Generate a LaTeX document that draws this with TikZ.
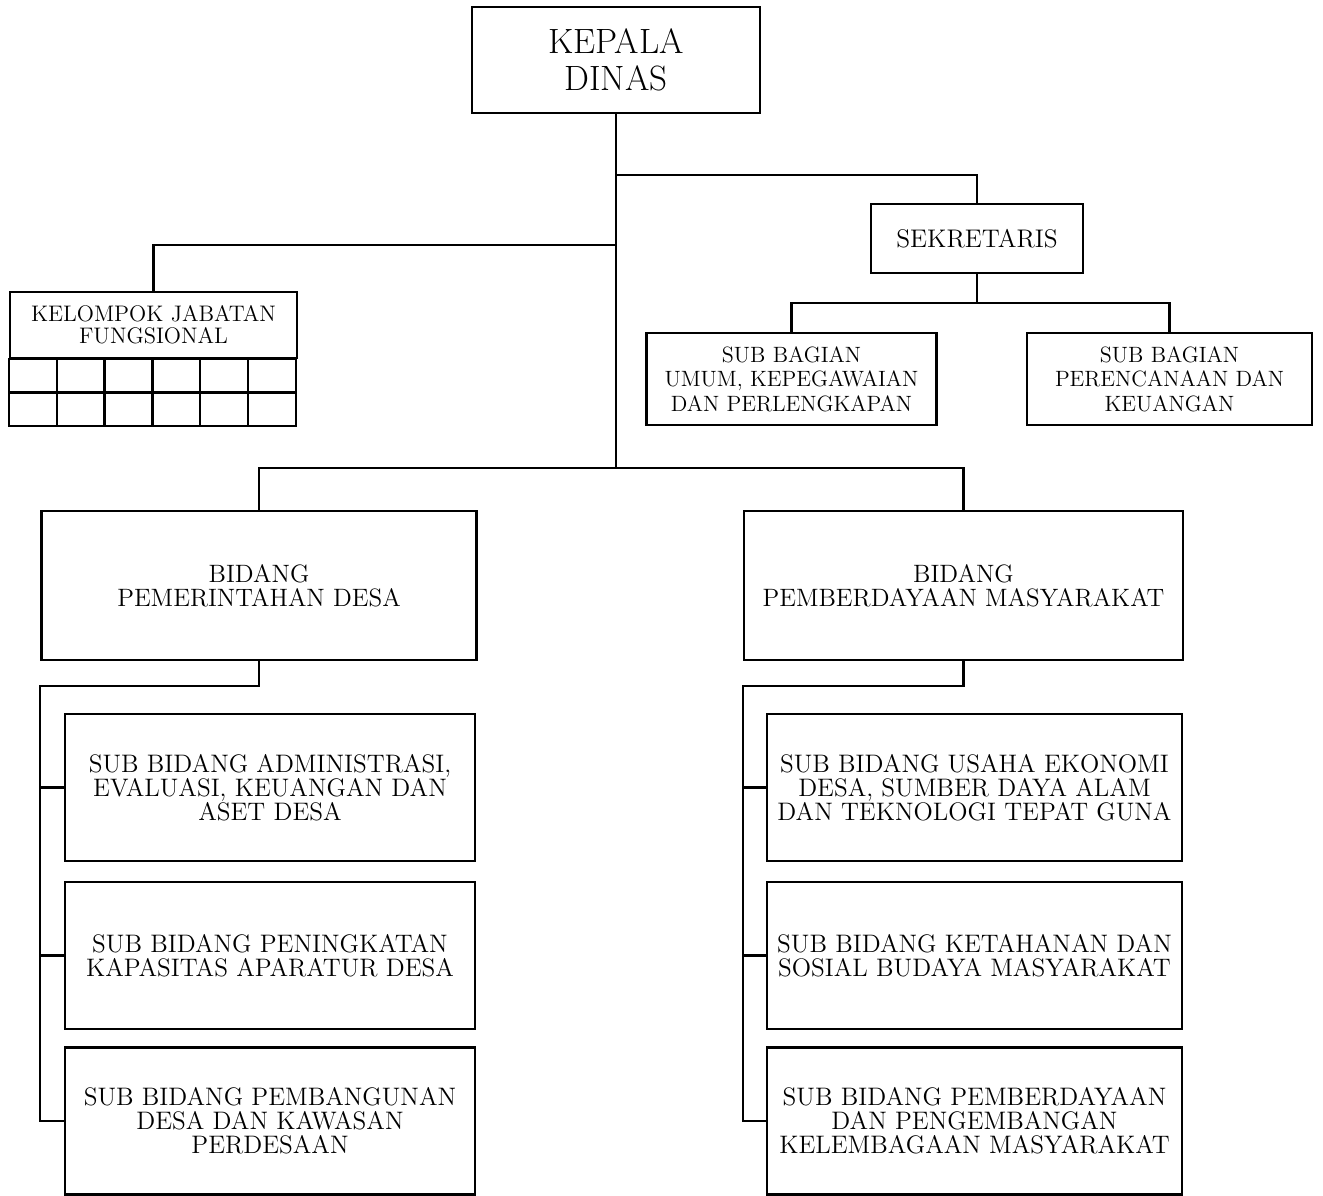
\documentclass[tikz,border=0pt]{standalone}
\usepackage{tikz}
\usetikzlibrary{positioning, calc}

\begin{document}
\begin{tikzpicture}[
    x=0.02cm, y=-0.02cm,
    box/.style={rectangle, draw, line width=1.3pt, align=center, inner sep=2pt},
    head/.style={box, minimum width=5.76cm, minimum height=2.12cm,
                 font=\fontsize{20}{21}\selectfont},
    mid/.style={box, minimum width=5.8cm, minimum height=1.84cm,
                font=\fontsize{12.6}{14}\selectfont},
    bid/.style={box, minimum width=8.7cm, minimum height=2.98cm,
                font=\fontsize{14.3}{13.6}\selectfont},
    sub/.style={box, minimum width=8.2cm, minimum height=2.94cm,
                font=\fontsize{14.4}{13.6}\selectfont},
    conn/.style={line width=1.3pt}
]
\useasboundingbox (0,0) rectangle (1323,1196);

% pimpinan
\node[head] (kepala) at (616,60) {KEPALA\\DINAS};
\node[box, minimum width=4.24cm, minimum height=1.38cm,
      font=\fontsize{14.5}{14}\selectfont] (sek) at (977,238.5) {SEKRETARIS};
\node[mid] (sbumum) at (791.5,379) {SUB BAGIAN\\UMUM, KEPEGAWAIAN\\DAN PERLENGKAPAN};
\node[mid, minimum width=5.7cm] (sbrenc) at (1169.5,379) {SUB BAGIAN\\PERENCANAAN DAN\\KEUANGAN};

% kelompok jabatan fungsional
\node[box, minimum width=5.74cm, minimum height=1.32cm,
      font=\fontsize{12.8}{12.5}\selectfont] (kjf) at (153.5,325) {KELOMPOK JABATAN\\FUNGSIONAL};
\foreach \c in {0,...,5}{
    \foreach \r in {0,1}{
        \draw[conn] ($(kjf.south west)+(\c*47.83,\r*33.5)$) rectangle ++(47.83,33.5);
    }
}

% bidang
\node[bid] (bidpd) at (259,585.5) {BIDANG\\PEMERINTAHAN DESA};
\node[bid, minimum width=8.78cm] (bidpm) at (963.5,585.5) {BIDANG\\PEMBERDAYAAN MASYARAKAT};

% sub bidang
\node[sub] (pd1) at (270,787.5) {SUB BIDANG ADMINISTRASI,\\EVALUASI, KEUANGAN DAN\\ASET DESA};
\node[sub] (pd2) at (270,955.5) {SUB BIDANG PENINGKATAN\\KAPASITAS APARATUR DESA};
\node[sub] (pd3) at (270,1121) {SUB BIDANG PEMBANGUNAN\\DESA DAN KAWASAN\\PERDESAAN};
\node[sub, minimum width=8.3cm] (pm1) at (974.5,787.5) {SUB BIDANG USAHA EKONOMI\\DESA, SUMBER DAYA ALAM\\DAN TEKNOLOGI TEPAT GUNA};
\node[sub, minimum width=8.3cm] (pm2) at (974.5,955.5) {SUB BIDANG KETAHANAN DAN\\SOSIAL BUDAYA MASYARAKAT};
\node[sub, minimum width=8.3cm] (pm3) at (974.5,1121) {SUB BIDANG PEMBERDAYAAN\\DAN PENGEMBANGAN\\KELEMBAGAAN MASYARAKAT};

% garis
\coordinate (jsek) at (616,175);
\coordinate (jkjf) at (616,245);
\coordinate (jbid) at (616,468);
\coordinate (jsb) at (977,303);
\coordinate (lpd) at (40,686);
\coordinate (lpm) at (743,686);

\draw[conn] (kepala.south) -- (jbid);
\draw[conn] (jsek) -| (sek.north);
\draw[conn] (jkjf) -| (kjf.north);
\draw[conn] (sek.south) -- (jsb);
\draw[conn] (sbumum.north) |- (jsb) -| (sbrenc.north);
\draw[conn] (bidpd.north) |- (jbid) -| (bidpm.north);

\draw[conn] (bidpd.south) |- (lpd) |- (pd3.west);
\draw[conn] (bidpm.south) |- (lpm) |- (pm3.west);
\foreach \n in {pd1,pd2}{
    \draw[conn] (lpd |- \n.west) -- (\n.west);
}
\foreach \n in {pm1,pm2}{
    \draw[conn] (lpm |- \n.west) -- (\n.west);
}
\end{tikzpicture}
\end{document}
